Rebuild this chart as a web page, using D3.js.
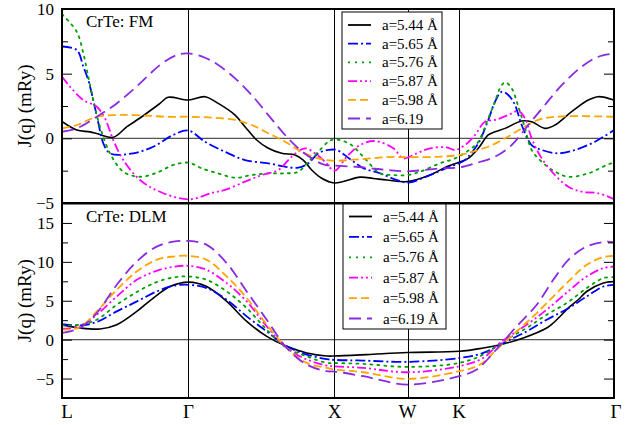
<!DOCTYPE html>
<html><head><meta charset="utf-8">
<script src="https://cdn.jsdelivr.net/npm/d3@7/dist/d3.min.js"></script>
<style>body{margin:0;background:#fff}svg{display:block}</style>
</head><body><svg id="c" width="638" height="425"></svg>
<script>
// ---- data ----
const symLabels = ["L","Γ","X","W","K","Γ"];
const symPos = [0, 0.866, 1.866, 2.366, 2.720, 3.780];
const seriesNames = ["a=5.44 Å","a=5.65 Å","a=5.76 Å","a=5.87 Å","a=5.98 Å","a=6.19 Å"];
const seriesNamesFM = ["a=5.44 Å","a=5.65 Å","a=5.76 Å","a=5.87 Å","a=5.98 Å","a=6.19"];
const colors = ["#000000","#0000ff","#00a000","#ff00ff","#ffa500","#8a2be2"];
const dashes = ["", "10,3,2,3", "2,5", "9,3,2,3,2,3", "8,4", "12,6"];
const yTicksFM = [-5,0,5,10], yMinorFM = [-2.5,2.5,7.5];
const yTicksDLM = [-5,0,5,10,15], yMinorDLM = [-2.5,2.5,7.5,12.5];

const fm544 = [[0,1.3],[0.101,0.64],[0.192,0.5],[0.249,0.33],[0.351,0.08],[0.445,0.9],[0.534,1.57],[0.671,2.7],[0.726,3.17],[0.866,2.96],[0.979,3.22],[1.070,2.70],[1.185,1.80],[1.253,0.90],[1.333,-0.13],[1.413,-0.77],[1.504,-1.16],[1.596,-1.29],[1.652,-1.68],[1.710,-2.45],[1.778,-3.09],[1.866,-3.45],[2.041,-3.0],[2.132,-3.1],[2.224,-3.22],[2.366,-3.35],[2.520,-2.84],[2.634,-2.19],[2.720,-1.85],[2.782,-1.55],[2.851,-0.77],[2.919,0.26],[2.965,0.51],[3.034,0.77],[3.148,1.34],[3.216,1.28],[3.307,0.77],[3.376,1.03],[3.490,2.06],[3.604,2.96],[3.673,3.22],[3.780,2.96]];
const fm565 = [[0,7.1],[0.101,6.83],[0.146,5.54],[0.180,4.5],[0.214,2.96],[0.249,1.18],[0.283,-0.39],[0.329,-1.16],[0.488,-1.16],[0.625,-0.65],[0.762,0.26],[0.866,0.6],[0.979,-0.26],[1.116,-1.04],[1.253,-1.68],[1.413,-1.93],[1.527,-2.19],[1.618,-2.27],[1.687,-1.93],[1.755,-1.16],[1.824,-0.9],[1.881,-0.9],[1.972,-1.6],[2.063,-2.3],[2.178,-2.7],[2.292,-3.22],[2.371,-3.43],[2.520,-2.84],[2.657,-2.19],[2.691,-2.06],[2.760,-1.68],[2.782,-1.42],[2.851,-0.39],[2.919,1.42],[2.965,2.83],[3.011,3.60],[3.056,3.35],[3.102,2.58],[3.148,1.03],[3.216,-0.52],[3.285,-0.9],[3.399,-1.16],[3.513,-0.9],[3.650,-0.26],[3.780,0.64]];
const fm576 = [[0,9.6],[0.101,8.24],[0.146,6.57],[0.180,4.76],[0.214,2.96],[0.260,0.9],[0.329,-1.16],[0.420,-2.58],[0.534,-2.97],[0.648,-2.66],[0.762,-2.06],[0.866,-1.88],[0.957,-2.32],[1.070,-2.71],[1.185,-3.05],[1.299,-2.84],[1.413,-2.71],[1.527,-2.71],[1.618,-2.58],[1.687,-1.81],[1.755,-1.04],[1.824,-0.26],[1.866,-0.08],[1.972,-0.44],[2.063,-1.42],[2.178,-2.71],[2.269,-2.84],[2.360,-2.85],[2.452,-2.58],[2.588,-1.93],[2.691,-1.55],[2.805,-0.77],[2.851,-0.26],[2.919,1.55],[2.965,2.83],[2.999,3.87],[3.034,4.33],[3.079,3.87],[3.125,2.44],[3.171,0.77],[3.216,-0.9],[3.285,-1.81],[3.376,-2.58],[3.467,-2.97],[3.604,-2.71],[3.741,-2.01],[3.780,-1.9]];
const fm587 = [[0,4.76],[0.055,3.99],[0.146,2.96],[0.238,2.44],[0.294,1.55],[0.351,-0.13],[0.420,-1.68],[0.534,-3.22],[0.671,-4.13],[0.866,-4.72],[1.034,-4.2],[1.116,-3.99],[1.253,-3.35],[1.368,-2.84],[1.481,-2.45],[1.573,-1.42],[1.664,-0.77],[1.733,-1.16],[1.801,-1.81],[1.866,-2.5],[1.950,-1.42],[2.041,-0.52],[2.143,-0.21],[2.269,-0.77],[2.337,-1.55],[2.429,-1.16],[2.520,-0.77],[2.634,-0.7],[2.691,-0.9],[2.760,-0.52],[2.828,0.26],[2.896,1.29],[2.965,1.42],[3.056,1.8],[3.125,2.11],[3.171,1.55],[3.216,0],[3.285,-1.55],[3.376,-2.84],[3.467,-3.74],[3.559,-4.13],[3.673,-4.25],[3.780,-4.7]];
const fm598 = [[0,0.77],[0.101,1.03],[0.238,1.67],[0.375,1.8],[0.488,1.8],[0.717,1.67],[0.866,1.67],[1.025,1.6],[1.185,1.42],[1.299,1.03],[1.413,0.39],[1.527,-0.26],[1.641,-1.04],[1.755,-1.55],[1.847,-1.72],[2.063,-1.6],[2.224,-1.45],[2.366,-1.45],[2.588,-1.42],[2.760,-1.21],[2.805,-1.04],[2.919,-0.65],[3.034,0],[3.148,0.77],[3.261,1.42],[3.376,1.67],[3.780,1.67]];
const fm619 = [[0,0.51],[0.101,0.77],[0.238,1.67],[0.375,2.70],[0.534,4.25],[0.671,5.67],[0.785,6.44],[0.866,6.57],[0.979,6.23],[1.070,5.67],[1.185,4.64],[1.299,3.35],[1.413,1.8],[1.527,0.26],[1.618,-0.77],[1.710,-1.55],[1.801,-2.06],[1.866,-2.1],[2.063,-2.25],[2.224,-2.45],[2.366,-2.55],[2.588,-2.32],[2.720,-2.25],[2.828,-1.93],[2.965,-1.42],[3.079,-0.52],[3.193,1.03],[3.307,2.58],[3.422,4.12],[3.559,5.54],[3.673,6.31],[3.780,6.55]];

const dlm544 = [[0,1.9],[0.123,1.5],[0.260,1.37],[0.375,1.92],[0.512,3.63],[0.625,5.35],[0.740,6.83],[0.866,7.4],[0.991,6.83],[1.128,4.91],[1.265,2.35],[1.402,0.42],[1.539,-0.86],[1.676,-1.71],[1.813,-2.1],[1.866,-2.1],[2.087,-1.92],[2.366,-1.65],[2.720,-1.5],[2.885,-1.07],[3.022,-0.55],[3.159,0.22],[3.319,1.5],[3.364,2.14],[3.479,4.27],[3.535,5.13],[3.593,6.19],[3.707,7.27],[3.780,7.48]];
const dlm565 = [[0,2.0],[0.123,1.83],[0.238,2.27],[0.375,3.63],[0.512,4.91],[0.648,6.19],[0.762,6.92],[0.866,7.05],[0.991,6.63],[1.128,5.13],[1.265,2.99],[1.402,1.06],[1.539,-0.86],[1.676,-1.92],[1.813,-2.5],[1.866,-2.6],[2.063,-2.69],[2.366,-2.86],[2.725,-2.35],[2.885,-1.71],[3.045,-0.22],[3.182,1.06],[3.319,2.56],[3.456,3.9],[3.593,5.55],[3.707,6.83],[3.780,7.05]];
const dlm576 = [[0,1.83],[0.123,1.92],[0.238,2.56],[0.375,4.49],[0.512,6.12],[0.648,7.40],[0.762,7.99],[0.866,8.12],[0.991,7.69],[1.128,6.19],[1.265,4.06],[1.402,1.28],[1.539,-1.07],[1.676,-2.14],[1.813,-2.99],[1.866,-3.0],[2.063,-3.12],[2.366,-3.50],[2.720,-2.99],[2.885,-1.92],[3.022,-0.22],[3.182,1.5],[3.319,3.21],[3.456,4.70],[3.593,6.63],[3.707,7.91],[3.780,8.04]];
const dlm587 = [[0,1.41],[0.123,1.71],[0.238,3.21],[0.375,5.55],[0.512,7.69],[0.648,8.85],[0.762,9.36],[0.866,9.49],[0.991,8.97],[1.128,7.27],[1.265,4.91],[1.402,1.71],[1.539,-1.07],[1.676,-2.56],[1.813,-3.33],[1.866,-3.42],[2.063,-3.63],[2.366,-4.19],[2.720,-3.42],[2.885,-2.35],[2.999,-0.43],[3.182,1.92],[3.319,3.85],[3.479,6.41],[3.593,8.12],[3.707,9.19],[3.780,9.4]];
const dlm598 = [[0,1.28],[0.123,1.58],[0.238,3.63],[0.375,6.41],[0.512,8.76],[0.648,10.26],[0.762,10.68],[0.866,10.77],[0.991,10.26],[1.128,8.12],[1.265,5.35],[1.402,1.92],[1.539,-1.07],[1.676,-2.99],[1.813,-3.63],[1.866,-3.85],[2.063,-4.19],[2.366,-5.04],[2.720,-4.06],[2.862,-3.21],[2.976,-1.28],[3.114,1.06],[3.251,3.42],[3.479,7.69],[3.593,9.62],[3.707,10.6],[3.780,10.77]];
const dlm619 = [[0,0.86],[0.123,1.5],[0.238,3.42],[0.375,7.05],[0.512,10.04],[0.648,11.96],[0.762,12.6],[0.866,12.69],[0.991,12.18],[1.128,9.83],[1.265,6.19],[1.402,2.56],[1.539,-1.07],[1.676,-3.21],[1.813,-4.06],[1.866,-4.1],[2.063,-4.70],[2.366,-5.77],[2.720,-4.70],[2.840,-3.85],[2.953,-1.71],[3.114,1.71],[3.251,4.49],[3.364,7.69],[3.479,10.47],[3.593,11.96],[3.730,12.6],[3.780,12.5]];

const fmSeries = [fm544,fm565,fm576,fm587,fm598,fm619];
const dlmSeries = [dlm544,dlm565,dlm576,dlm587,dlm598,dlm619];

// ---- drawing ----
const FONT = "'Liberation Serif', Tinos, 'Times New Roman', Times, 'DejaVu Serif', serif";
const svg = d3.select("#c");
const x = d3.scaleLinear().domain([0,3.780]).range([62,614]);

function txt(sel){ return sel.attr("font-family", FONT).style("font-family", FONT).attr("fill","#000"); }

function panel(id, yDomain, yRange, series, names, ticks, minor, title, legendBox, legendRow0, legendStep) {
  const y = d3.scaleLinear().domain(yDomain).range(yRange);
  const g = svg.append("g");
  const [y0, y1] = [yRange[1], yRange[0]];
  g.append("clipPath").attr("id", id).append("rect")
    .attr("x", x.range()[0]).attr("y", y0).attr("width", x.range()[1]-x.range()[0]).attr("height", y1-y0);
  g.append("line").attr("x1", x.range()[0]).attr("x2", x.range()[1])
    .attr("y1", y(0)).attr("y2", y(0)).attr("stroke", "#555").attr("stroke-width", 1.4);
  g.selectAll(".sym").data(symPos.slice(1,5)).enter().append("line")
    .attr("x1", d=>Math.round(x(d))+0.5).attr("x2", d=>Math.round(x(d))+0.5)
    .attr("y1", y0).attr("y2", y1).attr("stroke", "#000").attr("stroke-width", 1);
  const line = d3.line().x(d=>x(d[0])).y(d=>y(d[1])).curve(d3.curveCatmullRom.alpha(0.5));
  const cg = g.append("g").attr("clip-path", `url(#${id})`);
  series.forEach((s,i) => {
    cg.append("path").attr("d", line(s)).attr("fill","none")
      .attr("stroke", colors[i]).attr("stroke-width", i===0?1.6:1.8)
      .attr("stroke-dasharray", dashes[i] || null)
      .attr("stroke-linecap", i===2 ? "round" : "butt");
  });
  const axL = d3.axisLeft(y).tickValues(ticks).tickSize(-10).tickPadding(8).tickFormat(d3.format("d"));
  const gl = g.append("g").attr("transform", `translate(${x.range()[0]},0)`).call(axL);
  gl.select(".domain").remove();
  gl.selectAll("line").attr("stroke","#000").attr("stroke-width",1);
  txt(gl.selectAll("text")).attr("font-size", 17);
  gl.attr("font-family", FONT);
  const axLm = d3.axisLeft(y).tickValues(minor).tickSize(-6).tickFormat("");
  const glm = g.append("g").attr("transform", `translate(${x.range()[0]},0)`).call(axLm);
  glm.select(".domain").remove();
  const axR = d3.axisRight(y).tickValues(ticks).tickSize(-10).tickFormat("");
  const gr = g.append("g").attr("transform", `translate(${x.range()[1]},0)`).call(axR);
  gr.select(".domain").remove();
  const axRm = d3.axisRight(y).tickValues(minor).tickSize(-6).tickFormat("");
  const grm = g.append("g").attr("transform", `translate(${x.range()[1]},0)`).call(axRm);
  grm.select(".domain").remove();
  g.append("rect").attr("x", x.range()[0]).attr("y", y0).attr("width", x.range()[1]-x.range()[0])
    .attr("height", y1-y0).attr("fill","none").attr("stroke","#000").attr("stroke-width",2);
  txt(g.append("text")).attr("x", 86).attr("y", y0+18).attr("font-size", 17).text(title);
  txt(g.append("text")).attr("transform", `translate(31,${(y0+y1)/2}) rotate(-90)`)
    .attr("text-anchor","middle").attr("font-size", 19).text("J(q) (mRy)");
  const [lx0, ly0, lx1, ly1] = legendBox;
  g.append("rect").attr("x", lx0).attr("y", ly0).attr("width", lx1-lx0).attr("height", ly1-ly0)
    .attr("fill","#fff").attr("stroke","#000").attr("stroke-width",1);
  names.forEach((n,i) => {
    const cy = legendRow0 + i*legendStep;
    g.append("line").attr("x1", lx0+6).attr("x2", lx0+29).attr("y1", cy).attr("y2", cy)
      .attr("stroke", colors[i]).attr("stroke-width", 1.8)
      .attr("stroke-dasharray", dashes[i] || null);
    txt(g.append("text")).attr("x", lx0+40).attr("y", cy+5).attr("font-size", 15).text(n);
  });
  return y;
}

panel("clipTop", [-5,10], [203,9], fmSeries, seriesNamesFM, yTicksFM, yMinorFM, "CrTe: FM",
  [342,12,442,129], 25, 18.7);
panel("clipBot", [-7.5,17.5], [398,203.5], dlmSeries, seriesNames, yTicksDLM, yMinorDLM, "CrTe: DLM",
  [343,204,446,329], 216.5, 20.4);

const xl = svg.append("g");
txt(xl.selectAll("text").data(symLabels).enter().append("text"))
  .attr("x", (d,i) => i===0 ? x(symPos[i])+5 : (i===5 ? x(symPos[i])+2 : x(symPos[i])))
  .attr("y", 418).attr("text-anchor","middle").attr("font-size", 19).text(d=>d);
</script></body></html>
